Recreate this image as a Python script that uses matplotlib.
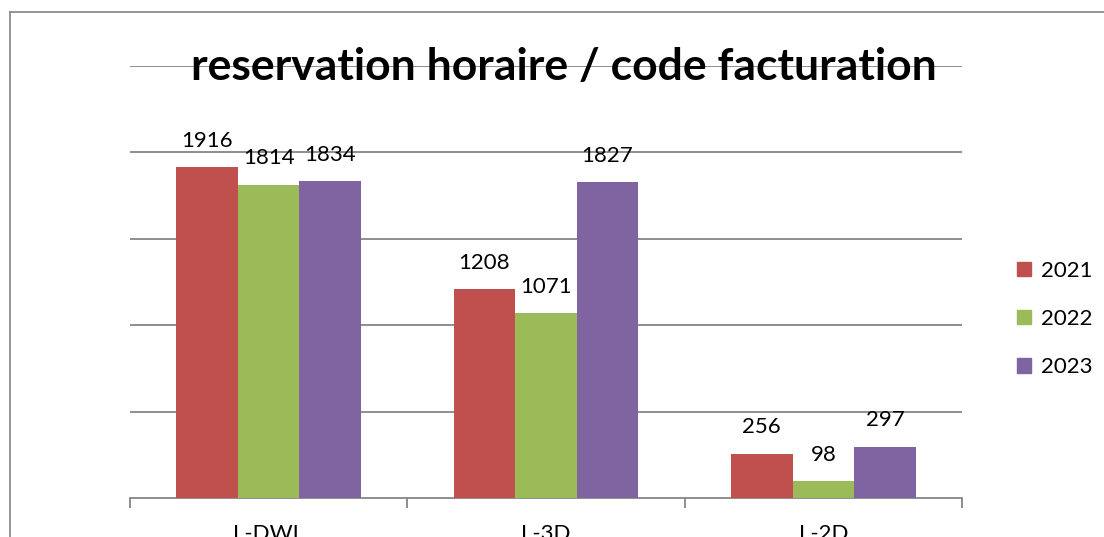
import numpy as np
import matplotlib
matplotlib.use('Agg')
from matplotlib import pyplot as plt
from matplotlib.lines import Line2D

plt.rcParams['font.family'] = ['Lato', 'DejaVu Sans']

categories = ['L-DWL', 'L-3D', 'L-2D']
years = ['2021', '2022', '2023']
values_2021 = [1916, 1208, 256]
values_2022 = [1814, 1071, 98]
values_2023 = [1834, 1827, 297]
colors = ['#C0504D', '#9BBB59', '#8064A2']

W, H = 1104, 537
fig = plt.figure(figsize=(W / 100, H / 100), dpi=100)
ax = fig.add_axes([130 / W, 1 - 498 / H, 832 / W, 432 / H])

x = np.arange(len(categories))
bw = 0.222
series = [values_2021, values_2022, values_2023]
for i, (vals, col, yr) in enumerate(zip(series, colors, years)):
    pos = x + (i - 1) * bw
    bars = ax.bar(pos, vals, width=bw, color=col, label=yr, zorder=3)
    for b, v in zip(bars, vals):
        ax.annotate(str(v), (b.get_x() + b.get_width() / 2, v),
                    xytext=(0, 19), textcoords='offset points',
                    ha='center', va='center', fontsize=16, zorder=4)

ax.set_xlim(-0.5, 2.5)
ax.set_ylim(0, 2500)
ax.set_yticks([500, 1000, 1500, 2000, 2500])
ax.yaxis.grid(True, color='#868686', linewidth=1.3, zorder=0)
ax.tick_params(axis='y', length=0, labelleft=False)
for s in ['top', 'right', 'left']:
    ax.spines[s].set_visible(False)
ax.spines['bottom'].set_color('#868686')
ax.spines['bottom'].set_linewidth(1.3)

# category separators drawn as minor ticks, labels centred under each group
ax.set_xticks([-0.5, 0.5, 1.5, 2.5], minor=True)
ax.set_xticks(x)
ax.set_xticklabels(categories, fontsize=16)
ax.tick_params(axis='x', which='major', length=0, pad=19)
ax.tick_params(axis='x', which='minor', length=7, width=1.3, color='#868686')

handles = [plt.Rectangle((0, 0), 1, 1, color=c) for c in colors]
leg = fig.legend(handles, years, loc='center left',
                 bbox_to_anchor=(1008 / W, 1 - 319 / H), frameon=False,
                 fontsize=16, handlelength=0.62, handleheight=0.62,
                 handletextpad=0.45, labelspacing=1.28, borderaxespad=0)

fig.text(564 / W, 1 - 80 / H, 'reservation horaire / code facturation',
         ha='center', va='baseline', fontsize=32, fontweight='bold', zorder=5)

# chart frame (left and top edges)
fig.add_artist(Line2D([10 / W, 10 / W], [0, 1 - 12 / H], color='#8c8c8c',
                      linewidth=1.3, transform=fig.transFigure))
fig.add_artist(Line2D([10 / W, 1], [1 - 12 / H, 1 - 12 / H], color='#8c8c8c',
                      linewidth=1.3, transform=fig.transFigure))

fig.savefig('out.png', dpi=100)
